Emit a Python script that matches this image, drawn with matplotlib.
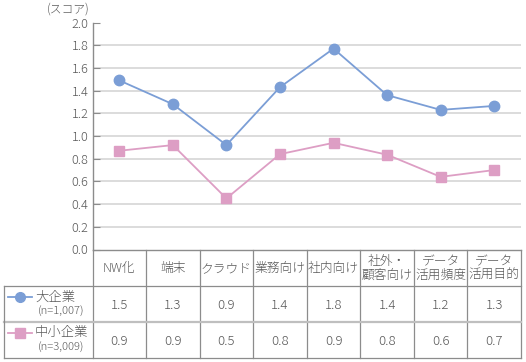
import matplotlib
matplotlib.use("Agg")
import matplotlib.pyplot as plt
from matplotlib.lines import Line2D
from matplotlib.transforms import blended_transform_factory

plt.rcParams['font.family'] = ['Noto Sans CJK JP', 'DejaVu Sans']
plt.rcParams['font.weight'] = 'light'

categories = ["NW化", "端末", "クラウド", "業務向け", "社内向け", "社外・\n顧客向け", "データ\n活用頻度", "データ\n活用目的"]
large = [1.49, 1.28, 0.92, 1.43, 1.77, 1.36, 1.23, 1.265]
small = [0.87, 0.92, 0.45, 0.84, 0.94, 0.835, 0.64, 0.70]
large_labels = ["1.5", "1.3", "0.9", "1.4", "1.8", "1.4", "1.2", "1.3"]
small_labels = ["0.9", "0.9", "0.5", "0.8", "0.9", "0.8", "0.6", "0.7"]
series_names = ["大企業", "中小企業"]
series_n = ["(n=1,007)", "(n=3,009)"]
yticks = [0.0, 0.2, 0.4, 0.6, 0.8, 1.0, 1.2, 1.4, 1.6, 1.8, 2.0]

W, H = 526, 362
BLUE = "#7b9ed6"
PINK = "#dd9ec4"
TXT = "#595959"
LINE = "#8c8c8c"

fig = plt.figure(figsize=(W / 100, H / 100), dpi=100)

def fx(x):
    return x / W

def fy(y):
    return 1 - y / H

ax_l, ax_r, ax_t, ax_b = 92.5, 521, 22.5, 249.5
ax = fig.add_axes([fx(ax_l), fy(ax_b), fx(ax_r - ax_l), (ax_b - ax_t) / H])

x = list(range(len(categories)))
ax.set_xlim(-0.5, len(categories) - 0.5)
ax.set_ylim(0, 2.0)
ax.set_yticks(yticks)
ax.set_yticklabels([f"{v:.1f}" for v in yticks], color=TXT, fontsize=9.2)
ax.set_xticks([])
for yv in yticks[1:-1]:
    ax.axhline(yv, color="#d9d9d9", lw=1.3, zorder=0)
for s in ["top", "right"]:
    ax.spines[s].set_visible(False)
ax.spines["left"].set_color(LINE)
ax.spines["bottom"].set_color(LINE)
ax.spines["left"].set_linewidth(1.0)
ax.spines["bottom"].set_linewidth(1.0)
ax.tick_params(axis="y", direction="in", length=5, color=LINE, pad=3)

ax.plot(x, large, color=BLUE, lw=1.3, marker="o", ms=7.5, mec=BLUE, mfc=BLUE, zorder=3, clip_on=False)
ax.plot(x, small, color=PINK, lw=1.3, marker="s", ms=7, mec=PINK, mfc=PINK, zorder=3, clip_on=False)

fig.text(fx(90), fy(9), "(スコア)", ha="right", va="center", fontsize=8.5, color=TXT)

# table
bt = blended_transform_factory(ax.transData, fig.transFigure)
row_y = [ax_b, 286, 322, 357.5]
left_x = 3.5

for i in range(len(categories) + 1):
    xv = i - 0.5
    fig.add_artist(Line2D([xv, xv], [fy(row_y[0]), fy(row_y[-1])], transform=bt, color=LINE, lw=0.9))
for j, yy in enumerate(row_y[1:]):
    col = "#bfbfbf" if j == 1 else LINE
    lw = 1.6 if j == 1 else 0.9
    fig.add_artist(Line2D([fx(left_x), fx(ax_r)], [fy(yy), fy(yy)], transform=fig.transFigure, color=col, lw=lw))
fig.add_artist(Line2D([fx(left_x), fx(left_x)], [fy(row_y[1]), fy(row_y[-1])], transform=fig.transFigure, color=LINE, lw=0.9))

for i, c in enumerate(categories):
    fig.text(i, fy((row_y[0] + row_y[1]) / 2 + 1), c, transform=bt, ha="center", va="center",
             fontsize=9.2, color=TXT, linespacing=1.1)

for r, (labels, name, n, col, mk) in enumerate([
        (large_labels, series_names[0], series_n[0], BLUE, "o"),
        (small_labels, series_names[1], series_n[1], PINK, "s")]):
    yc = (row_y[r + 1] + row_y[r + 2]) / 2
    for i, lab in enumerate(labels):
        fig.text(i, fy(yc + 1.5), lab, transform=bt, ha="center", va="center", fontsize=9.5, color=TXT)
    fig.add_artist(Line2D([fx(8), fx(32)], [fy(yc - 7), fy(yc - 7)], transform=fig.transFigure,
                          color=col, lw=1.3))
    fig.add_artist(Line2D([fx(20)], [fy(yc - 7)], transform=fig.transFigure, color=col,
                          marker=mk, ms=7 if mk == "o" else 6.5, mec=col, mfc=col))
    fig.text(fx(35), fy(yc - 7), name, ha="left", va="center", fontsize=9.6, color=TXT)
    fig.text(fx(38), fy(yc + 8.5), n, ha="left", va="center", fontsize=8, color=TXT)

fig.savefig("out.png", dpi=100)
